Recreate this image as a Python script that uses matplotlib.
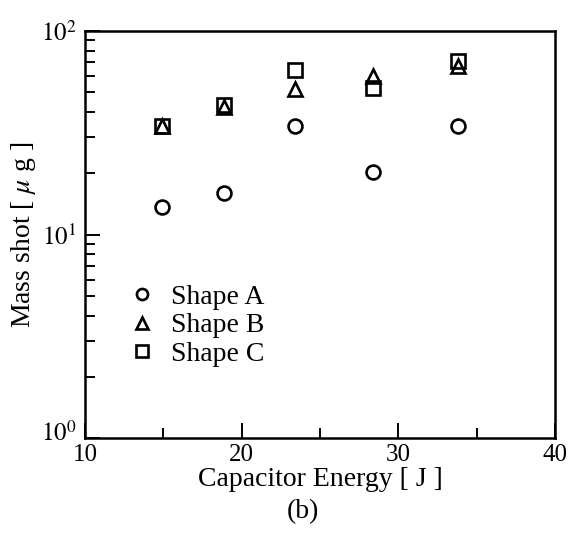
import matplotlib
matplotlib.use('Agg')
import matplotlib.pyplot as plt
from matplotlib.ticker import FixedLocator, LogLocator, NullFormatter
from matplotlib.transforms import ScaledTranslation

plt.rcParams['font.family'] = ['Liberation Serif', 'DejaVu Serif']
plt.rcParams['mathtext.fontset'] = 'stix'

# Data
energy = [14.9, 18.9, 23.4, 28.4, 33.8]
shape_a = [13.7, 16.0, 34.0, 20.3, 34.0]
shape_b = [34.0, 42.5, 52.0, 60.0, 67.0]
shape_c = [34.0, 43.5, 64.0, 52.5, 71.0]

fig = plt.figure(figsize=(5.71, 5.33), dpi=100)
ax = fig.add_axes([0.149, 0.178, 0.823, 0.764])

mk = dict(linestyle='none', markerfacecolor='none', markeredgecolor='black',
          markeredgewidth=1.9)
ax.plot(energy, shape_a, marker='o', markersize=10, label='Shape A', **mk)
ax.plot(energy, shape_b, marker='^', markersize=10, label='Shape B', **mk)
ax.plot(energy, shape_c, marker='s', markersize=10, label='Shape C', **mk)

ax.set_yscale('log')
ax.set_xlim(10, 40)
ax.set_ylim(1, 100)

ax.xaxis.set_major_locator(FixedLocator([10, 20, 30, 40]))
ax.xaxis.set_minor_locator(FixedLocator([15, 25, 35]))
ax.yaxis.set_major_locator(FixedLocator([1, 10, 100]))
ax.yaxis.set_minor_locator(LogLocator(base=10, subs=range(2, 10)))
ax.yaxis.set_minor_formatter(NullFormatter())
ax.set_yticklabels([r'$10^{0}$', r'$10^{1}$', r'$10^{2}$'])

ax.tick_params(which='both', direction='in', top=False, right=False,
               labelsize=18, width=1.4, pad=6)
ax.tick_params(axis='x', which='both', pad=4)
ax.tick_params(which='major', length=11)
ax.tick_params(which='minor', length=7)
for s in ax.spines.values():
    s.set_linewidth(1.8)

# lift the 10^0 label a little so it clears the "10" below it
lab0 = ax.yaxis.get_major_ticks()[0].label1
lab0.set_transform(lab0.get_transform() + ScaledTranslation(0, 5 / 72, fig.dpi_scale_trans))

ax.set_xlabel('Capacitor Energy [ J ]', fontsize=20, labelpad=1)
ax.set_ylabel(r'Mass shot [ $\mu$ g ]', fontsize=20, labelpad=2)

ax.legend(loc='upper left', bbox_to_anchor=(0.098, 0.378), frameon=False,
          fontsize=20, handlelength=0.8, handletextpad=0.65,
          labelspacing=0.12, borderpad=0, borderaxespad=0, markerscale=0.8)

fig.text(0.53, 0.04, '(b)', ha='center', va='center', fontsize=20)

plt.savefig('out.png', dpi=100)
